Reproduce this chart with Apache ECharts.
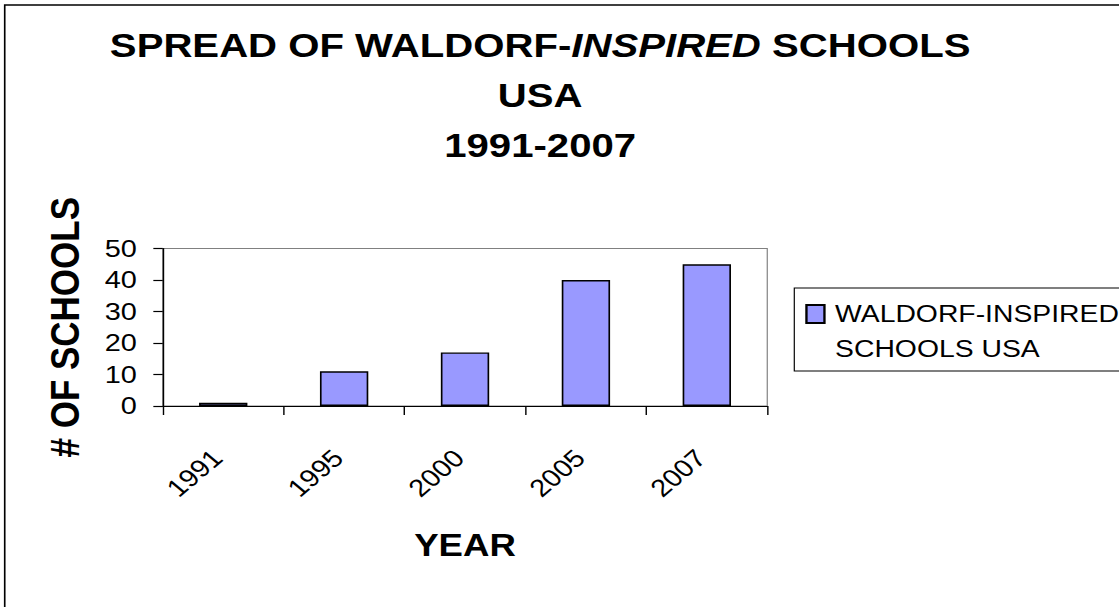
<!DOCTYPE html>
<html>
<head>
<meta charset="utf-8">
<script src="https://cdn.jsdelivr.net/npm/echarts@6/dist/echarts.min.js"></script>
<style>
  html, body { margin: 0; padding: 0; background: #fff; overflow: hidden; }
  #chart { width: 948px; height: 607px; transform: scaleX(1.1804); transform-origin: 0 0; }
</style>
</head>
<body>
<div id="chart"></div>
<script>
// ---- data ----
const categories = ['1991', '1995', '2000', '2005', '2007'];
const schools = [1, 11, 17, 40, 45];
const seriesName = 'WALDORF-INSPIRED\nSCHOOLS USA';
const yMin = 0, yMax = 50, yInterval = 10;
const titleLine1a = 'SPREAD OF WALDORF-';
const titleLine1b = 'INSPIRED';
const titleLine1c = ' SCHOOLS';
const titleLine2 = 'USA';
const titleLine3 = '1991-2007';
const xName = 'YEAR';
const yName = '# OF SCHOOLS';

const FONT = 'Liberation Sans, Arial, sans-serif';
const chart = echarts.init(document.getElementById('chart'), null, { renderer: 'svg' });

chart.setOption({
  animation: false,
  backgroundColor: '#fff',
  textStyle: { fontFamily: FONT, color: '#000' },
  title: {
    text: '{n|' + titleLine1a + '}{i|' + titleLine1b + '}{n|' + titleLine1c + '}\n{n|' + titleLine2 + '}\n{n|' + titleLine3 + '}',
    left: 457.6,
    top: 20,
    padding: 0,
    textAlign: 'center',
    textStyle: {
      fontFamily: FONT,
      rich: {
        n: { fontSize: 34, fontWeight: 'bold', fontFamily: FONT, color: '#000', lineHeight: 50 },
        i: { fontSize: 34, fontWeight: 'bold', fontStyle: 'italic', fontFamily: FONT, color: '#000', lineHeight: 50 }
      }
    }
  },
  graphic: [{
    type: 'rect',
    silent: true,
    shape: { x: 4, y: 5, width: 3000, height: 3000 },
    style: { fill: 'none', stroke: '#000', lineWidth: 1.4 }
  }],
  legend: {
    orient: 'vertical',
    left: 672.9,
    top: 288,
    padding: [-26.5, 40, 4.5, 9.3],
    borderColor: '#000',
    borderWidth: 1,
    itemWidth: 15.25,
    itemHeight: 18,
    icon: 'rect',
    formatter: function (name) { return '\n' + name; },
    textStyle: {
      fontFamily: FONT,
      fontSize: 24,
      color: '#000',
      lineHeight: 35,
      padding: [0, 0, 0, 4]
    },
    data: [seriesName]
  },
  grid: {
    left: 137.9,
    right: 298,
    top: 248.5,
    bottom: 201,
    containLabel: false,
    outerBoundsMode: 'none',
    show: true,
    borderColor: '#808080',
    borderWidth: 1,
    backgroundColor: 'transparent'
  },
  xAxis: {
    type: 'category',
    data: categories,
    name: xName,
    nameLocation: 'middle',
    nameGap: 124,
    nameTextStyle: { fontFamily: FONT, fontSize: 31, fontWeight: 'bold', color: '#000' },
    axisLine: { show: true, lineStyle: { color: '#000', width: 1.2 } },
    axisTick: { show: true, length: 9, alignWithLabel: false, lineStyle: { color: '#000', width: 1.2 } },
    axisLabel: {
      rotate: 45,
      interval: 0,
      margin: 43,
      fontFamily: FONT,
      fontSize: 24.5,
      color: '#000',
      padding: [0, 7, 0, 0]
    },
    splitLine: { show: false }
  },
  yAxis: {
    type: 'value',
    min: yMin,
    max: yMax,
    interval: yInterval,
    name: yName,
    nameLocation: 'middle',
    nameRotate: 90,
    nameGap: 66,
    nameTextStyle: { fontFamily: FONT, fontSize: 35, fontWeight: 'bold', color: '#000' },
    axisLine: { show: true, lineStyle: { color: '#000', width: 1.2 } },
    axisTick: { show: true, length: 8, lineStyle: { color: '#000', width: 1.2 } },
    axisLabel: { margin: 22, fontFamily: FONT, fontSize: 24.5, color: '#000' },
    splitLine: { show: false }
  },
  series: [{
    name: seriesName,
    type: 'bar',
    data: schools,
    barWidth: '40%',
    itemStyle: { color: '#9999FF', borderColor: '#000', borderWidth: 1.4 }
  }]
});
</script>
</body>
</html>
